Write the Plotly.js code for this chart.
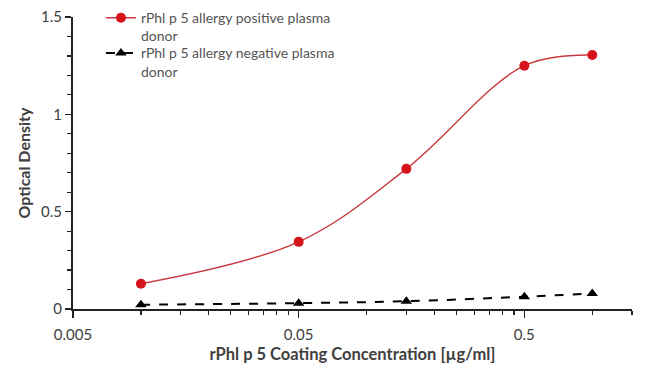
<!DOCTYPE html>
<html><head><meta charset="utf-8">
<script src="https://cdn.plot.ly/plotly-3.0.1.min.js"></script>
<style>body{margin:0;background:#fff}#c{width:650px;height:366px}</style>
</head><body><div id="c"></div>
<script>
const concentration = [0.01, 0.05, 0.15, 0.5, 1.0];
const positiveOD = [0.13, 0.345, 0.72, 1.25, 1.305];
const negativeOD = [0.022, 0.03, 0.04, 0.063, 0.08];
const positiveName = "rPhl p 5 allergy positive plasma<br>donor";
const negativeName = "rPhl p 5 allergy negative plasma<br>donor";
const xTickVals = [0.005, 0.05, 0.5];
const xTickText = ["0.005", "0.05", "0.5"];
const yTickVals = [0, 0.5, 1, 1.5];
const yTickText = ["0", "0.5", "1", "1.5"];

const xMinor = [];
[0.005, 0.05, 0.5].forEach(b => { for (let k = 2; k <= 9; k++) { const v = b * k; if (v <= 1.5) xMinor.push(v); } });

const font = "Lato, 'Open Sans', sans-serif";
const traces = [
  {x: concentration, y: positiveOD, name: positiveName, type: "scatter", mode: "lines+markers", legend: "legend",
   line: {color: "#c8383f", width: 1.4, shape: "spline", smoothing: 1},
   marker: {symbol: "circle", size: 10, color: "#d7141c"}},
  {x: concentration, y: negativeOD, name: negativeName, type: "scatter", mode: "lines+markers", legend: "legend2",
   line: {color: "#000", width: 2, dash: "dash", shape: "spline"},
   marker: {symbol: "triangle-up", size: 10, color: "#000"}}
];
const legFont = {size: 14, color: "#555", family: font};
const layout = {
  width: 650, height: 366,
  margin: {l: 73, r: 18, t: 0, b: 57},
  paper_bgcolor: "#fff", plot_bgcolor: "#fff",
  font: {family: font, color: "#404040"},
  showlegend: true,
  legend: {x: 0.05, y: 0.993, xanchor: "left", yanchor: "top", bgcolor: "rgba(0,0,0,0)", valign: "top", font: legFont},
  legend2: {x: 0.05, y: 0.879, xanchor: "left", yanchor: "top", bgcolor: "rgba(0,0,0,0)", valign: "top", font: legFont},
  xaxis: {type: "log", range: [Math.log10(0.005), Math.log10(1.5)],
    tickvals: xTickVals, ticktext: xTickText, ticks: "outside", ticklen: 7, tickwidth: 1.2, tickcolor: "#222",
    ticklabelstandoff: 4,
    minor: {tickvals: xMinor, ticks: "outside", ticklen: 4, tickcolor: "#222", showgrid: false},
    showline: true, linecolor: "#222", linewidth: 2, showgrid: false, zeroline: false,
    tickfont: {size: 15, color: "#404040"},
    title: {text: "<b>rPhl p 5 Coating Concentration [µg/ml]</b>", font: {size: 16.5, color: "#404040"}, standoff: 6}},
  yaxis: {range: [0, 1.5], domain: [0, 1 - 17 / 309], tickvals: yTickVals, ticktext: yTickText,
    ticks: "outside", ticklen: 6, tickwidth: 1.2, tickcolor: "#222",
    minor: {dtick: 0.1, ticks: "outside", ticklen: 4, tickcolor: "#222", showgrid: false},
    showline: true, linecolor: "#222", linewidth: 2, showgrid: false, zeroline: false,
    tickfont: {size: 15, color: "#404040"},
    title: {text: "<b>Optical Density</b>", font: {size: 16, color: "#404040"}, standoff: 6}}
};
Plotly.newPlot("c", traces, layout, {displayModeBar: false, staticPlot: true});
</script></body></html>
